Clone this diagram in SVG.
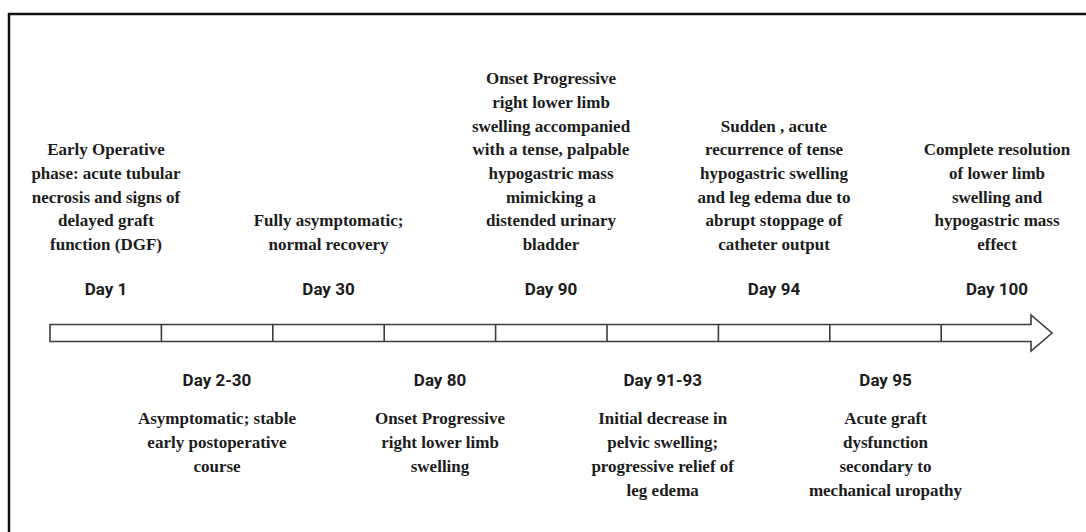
<svg xmlns="http://www.w3.org/2000/svg" width="1086" height="532" viewBox="0 0 1086 532">
<style>
.d{font-family:"Liberation Serif","Times New Roman",serif;font-weight:700;font-size:17px;fill:#1c1c1c;text-anchor:middle}
.day{font-family:Roboto,"Liberation Sans",sans-serif;font-weight:700;font-size:17px;fill:#1c1c1c;text-anchor:middle}
.bar{fill:#fff;stroke:#3c3c3c;stroke-width:1.6}
.tick{stroke:#3c3c3c;stroke-width:1.6}
</style>
<rect x="0" y="0" width="1086" height="532" fill="#fff"/>
<rect x="9" y="14" width="1100" height="540" fill="none" stroke="#111" stroke-width="2.5"/>
<g id="connectors">
<g id="timeline">
<path class="bar" d="M50,324.5 H1031 V315 L1052,333 L1031,351 V341.5 H50 Z"/>
<line class="tick" x1="161.4" y1="324.5" x2="161.4" y2="341.5"/>
<line class="tick" x1="272.8" y1="324.5" x2="272.8" y2="341.5"/>
<line class="tick" x1="384.2" y1="324.5" x2="384.2" y2="341.5"/>
<line class="tick" x1="495.6" y1="324.5" x2="495.6" y2="341.5"/>
<line class="tick" x1="607" y1="324.5" x2="607" y2="341.5"/>
<line class="tick" x1="718.4" y1="324.5" x2="718.4" y2="341.5"/>
<line class="tick" x1="829.8" y1="324.5" x2="829.8" y2="341.5"/>
<line class="tick" x1="941.2" y1="324.5" x2="941.2" y2="341.5"/>
</g>
</g>
<g id="day1">
<text class="d" x="106" y="155">Early Operative</text>
<text class="d" x="106" y="178.8">phase: acute tubular</text>
<text class="d" x="106" y="202.5">necrosis and signs of</text>
<text class="d" x="106" y="226.3">delayed graft</text>
<text class="d" x="106" y="250">function (DGF)</text>
<text class="day" x="106" y="295">Day 1</text>
</g>
<g id="day2-30">
<text class="day" x="217" y="386">Day 2-30</text>
<text class="d" x="217" y="424">Asymptomatic; stable</text>
<text class="d" x="217" y="448">early postoperative</text>
<text class="d" x="217" y="472">course</text>
</g>
<g id="day30">
<text class="d" x="328.5" y="226.3">Fully asymptomatic;</text>
<text class="d" x="328.5" y="250">normal recovery</text>
<text class="day" x="328.5" y="295">Day 30</text>
</g>
<g id="day80">
<text class="day" x="440" y="386">Day 80</text>
<text class="d" x="440" y="424">Onset Progressive</text>
<text class="d" x="440" y="448">right lower limb</text>
<text class="d" x="440" y="472">swelling</text>
</g>
<g id="day90">
<text class="d" x="551" y="84.1">Onset Progressive</text>
<text class="d" x="551" y="107.8">right lower limb</text>
<text class="d" x="551" y="131.5">swelling accompanied</text>
<text class="d" x="551" y="155.2">with a tense, palpable</text>
<text class="d" x="551" y="178.9">hypogastric mass</text>
<text class="d" x="551" y="202.6">mimicking a</text>
<text class="d" x="551" y="226.3">distended urinary</text>
<text class="d" x="551" y="250">bladder</text>
<text class="day" x="551" y="295">Day 90</text>
</g>
<g id="day91-93">
<text class="day" x="662.7" y="386">Day 91-93</text>
<text class="d" x="662.7" y="424">Initial decrease in</text>
<text class="d" x="662.7" y="448">pelvic swelling;</text>
<text class="d" x="662.7" y="472">progressive relief of</text>
<text class="d" x="662.7" y="496">leg edema</text>
</g>
<g id="day94">
<text class="d" x="774" y="131.5">Sudden , acute</text>
<text class="d" x="774" y="155.2">recurrence of tense</text>
<text class="d" x="774" y="178.9">hypogastric swelling</text>
<text class="d" x="774" y="202.6">and leg edema due to</text>
<text class="d" x="774" y="226.3">abrupt stoppage of</text>
<text class="d" x="774" y="250">catheter output</text>
<text class="day" x="774" y="295">Day 94</text>
</g>
<g id="day95">
<text class="day" x="885.5" y="386">Day 95</text>
<text class="d" x="885.5" y="424">Acute graft</text>
<text class="d" x="885.5" y="448">dysfunction</text>
<text class="d" x="885.5" y="472">secondary to</text>
<text class="d" x="885.5" y="496">mechanical uropathy</text>
</g>
<g id="day100">
<text class="d" x="997" y="155.2">Complete resolution</text>
<text class="d" x="997" y="178.9">of lower limb</text>
<text class="d" x="997" y="202.6">swelling and</text>
<text class="d" x="997" y="226.3">hypogastric mass</text>
<text class="d" x="997" y="250">effect</text>
<text class="day" x="997" y="295">Day 100</text>
</g>
</svg>
